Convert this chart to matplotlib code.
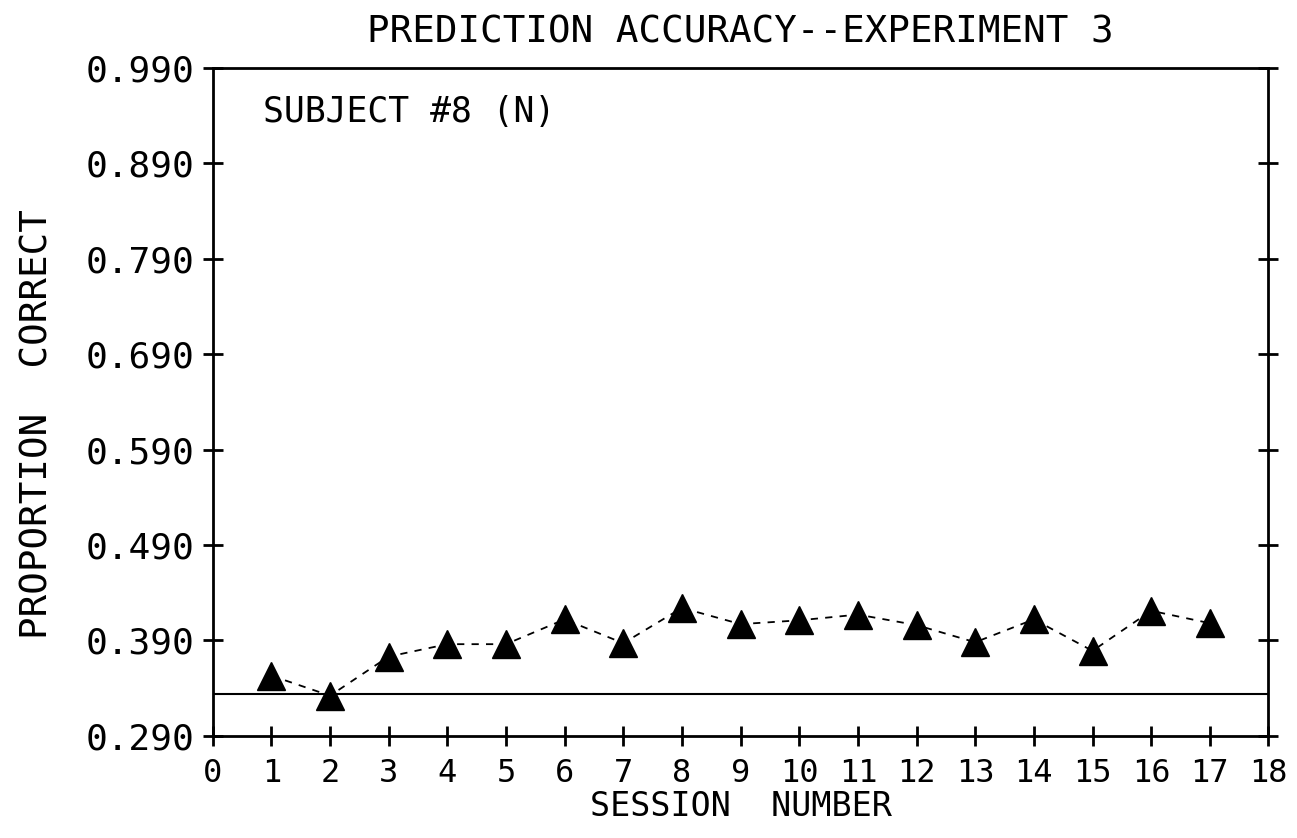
import numpy as np
import matplotlib
matplotlib.use("Agg")
import matplotlib.pyplot as plt

# data
sessions = [1, 2, 3, 4, 5, 6, 7, 8, 9, 10, 11, 12, 13, 14, 15, 16, 17]
accuracy = [0.353, 0.332, 0.373, 0.386, 0.386, 0.412, 0.387, 0.424, 0.407,
            0.411, 0.417, 0.406, 0.388, 0.412, 0.379, 0.421, 0.408]
chance = 1.0 / 3.0
yticks = [0.29, 0.39, 0.49, 0.59, 0.69, 0.79, 0.89, 0.99]
xticks = list(range(0, 19))

# plotter-style lettering: a monospaced face gets the wide spacing
plt.rcParams['font.family'] = ['DejaVu Sans Mono', 'DejaVu Sans']

fig = plt.figure(figsize=(12.97, 8.38), dpi=100)
ax = fig.add_axes([0.164, 0.122, 0.814, 0.797])

ax.axhline(chance, color='black', lw=1.5)
ax.plot(sessions, accuracy, color='black', ls=(0, (4, 4)), lw=1.3,
        marker='^', markersize=20, markerfacecolor='black', markeredgecolor='black')

ax.set_xlim(0, 18)
ax.set_ylim(0.29, 0.99)
ax.set_xticks(xticks)
ax.set_xticklabels([str(x) for x in xticks])
ax.set_yticks(yticks)
ax.set_yticklabels(['%.3f' % y for y in yticks])

ax.tick_params(axis='x', direction='inout', length=14, width=2, labelsize=23, pad=9)
ax.tick_params(axis='y', direction='inout', length=14, width=2, labelsize=26, pad=6,
               right=True)
for s in ax.spines.values():
    s.set_linewidth(2)

ax.set_title('PREDICTION ACCURACY--EXPERIMENT 3', fontsize=27, pad=18)
ax.set_xlabel('SESSION  NUMBER', fontsize=24, labelpad=1)
ax.set_ylabel('PROPORTION  CORRECT', fontsize=27)
ax.yaxis.set_label_coords(-0.149, 0.466)
ax.text(0.048, 0.96, 'SUBJECT #8 (N)', transform=ax.transAxes, fontsize=25,
        va='top', ha='left')

fig.savefig('out.png', dpi=100)
